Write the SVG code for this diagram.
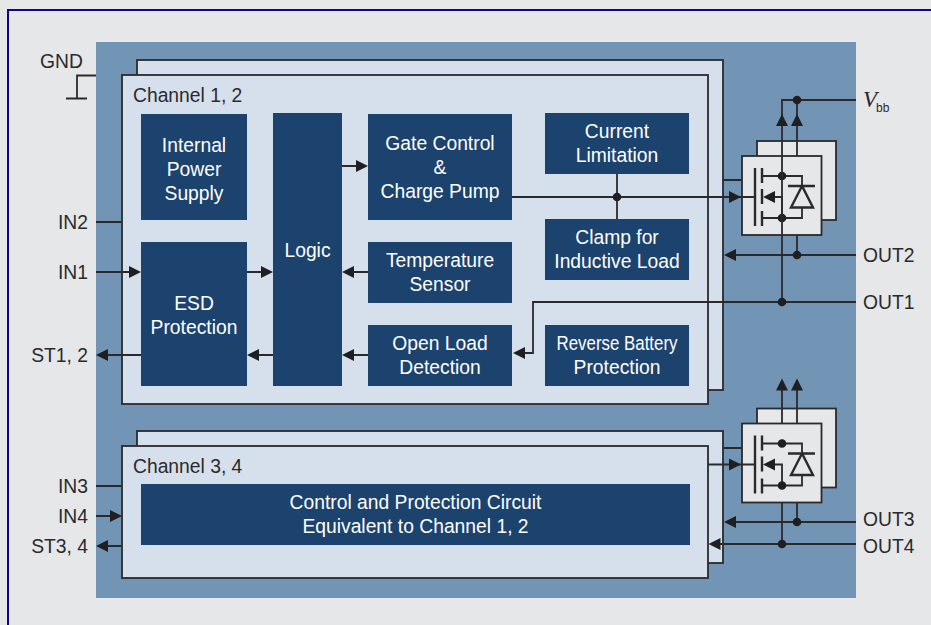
<svg xmlns="http://www.w3.org/2000/svg" width="931" height="625" viewBox="0 0 931 625">
<style>
text{font-family:"Liberation Sans",Arial,sans-serif;font-size:19.3px;fill:#2a2a2c}
.w{fill:#fff;text-anchor:middle}
.e{text-anchor:end}
.b{fill:#1c436d}
.ch{fill:#d6e0ec;stroke:#2a2a2c;stroke-width:1.8}
.m{fill:#e6e7e9;stroke:#2a2a2c;stroke-width:1.8}
.l{fill:none;stroke:#2a2a2c;stroke-width:1.8}
.t{stroke-width:2.4}
.a,.d{fill:#1f1f21}
</style>
<defs>
<path id="au" class="a" d="M0 0L6 12H-6Z"/>
<path id="al" class="a" d="M0 0L12 -6V6Z"/>
<path id="ar" class="a" d="M0 0L-12 -6V6Z"/>
<circle id="dot" class="d" r="4.300"/>
<g id="fet">
<rect class="m" x="757" y="141" width="79" height="79"/>
<rect class="m" x="742" y="156" width="79.500" height="79"/>
<path class="l t" d="M755 168V226M762 168V183M762 189V204M762 211V226"/>
<path class="l" d="M762 176H802V186M762 218H802V208M775 197H782V218"/>
<path class="l t" d="M788 186H815M802 186L791 207.500H813Z"/>
<use href="#al" x="763" y="197"/>
<use href="#dot" x="782" y="176"/>
<use href="#dot" x="782" y="218"/>
</g>
</defs>
<rect width="931" height="625" fill="#e6e7e9"/>
<path d="M8 625V10H931" fill="none" stroke="#16008c" stroke-width="2"/>
<rect x="96" y="42" width="760" height="556" fill="#7295b6"/>
<g id="ch12-back"><rect class="ch" x="137" y="60" width="586" height="330"/></g>
<g id="ch12"><rect class="ch" x="122" y="75" width="586" height="329"/><text x="133" y="102">Channel 1, 2</text></g>
<g id="ch34-back"><rect class="ch" x="137" y="431" width="586" height="132"/></g>
<g id="ch34"><rect class="ch" x="122" y="446" width="586" height="132"/><text x="133" y="473">Channel 3, 4</text></g>
<g id="fet12"><use href="#fet"/></g>
<g id="fet34"><use href="#fet" y="267.500"/></g>
<g id="connectors">
<path class="l" d="M96 75.500H77V98M66 98.500H87M96 222H122M96 272H130M107 355H141M342 166H357M247 272H262M353 272H368M258 355H273M353 355H368M524 353H533V302H856M512 197H730M617 173V219M730 197H755M723 180H742M782 125V302M797 125V156M797 100H856M782 125V100H797M797 100V125M797 235V255M735 255H856"/>
<path class="l" d="M96 486H122M96 516H110M107 546H122M782 389V423.500M797 389V423.500M782 503V544M797 503V522M735 522H856M720 544H856M708 464.500H755M723 448H742"/>
<use href="#ar" x="141" y="272"/>
<use href="#al" x="96" y="355"/>
<use href="#ar" x="368" y="166"/>
<use href="#ar" x="273" y="272"/>
<use href="#al" x="342" y="272"/>
<use href="#al" x="247" y="355"/>
<use href="#al" x="342" y="355"/>
<use href="#al" x="513" y="353"/>
<use href="#ar" x="741" y="197"/>
<use href="#al" x="724" y="255"/>
<use href="#au" x="782" y="114"/>
<use href="#au" x="797" y="114"/>
<use href="#dot" x="797" y="100"/>
<use href="#dot" x="617" y="197"/>
<use href="#dot" x="797" y="255"/>
<use href="#dot" x="782" y="302"/>
<use href="#ar" x="122" y="516"/>
<use href="#al" x="96" y="546"/>
<use href="#ar" x="741" y="464.500"/>
<use href="#al" x="724" y="522"/>
<use href="#al" x="708.500" y="544"/>
<use href="#au" x="782" y="378.500"/>
<use href="#au" x="797" y="378.500"/>
<use href="#dot" x="797" y="522"/>
<use href="#dot" x="782" y="544"/>
</g>
<g id="power"><rect class="b" x="141" y="114" width="106" height="106"/><text class="w" x="194" y="152">Internal</text><text class="w" x="194" y="176">Power</text><text class="w" x="194" y="200">Supply</text></g>
<g id="esd"><rect class="b" x="141" y="242" width="106" height="144"/><text class="w" x="194" y="310">ESD</text><text class="w" x="194" y="334">Protection</text></g>
<g id="logic"><rect class="b" x="273" y="113" width="69" height="273"/><text class="w" x="307.500" y="257">Logic</text></g>
<g id="gate"><rect class="b" x="368" y="114" width="144" height="106"/><text class="w" x="440" y="150">Gate Control</text><text class="w" x="440" y="174">&amp;</text><text class="w" x="440" y="198">Charge Pump</text></g>
<g id="current"><rect class="b" x="545" y="113" width="144" height="61"/><text class="w" x="617" y="138">Current</text><text class="w" x="617" y="162">Limitation</text></g>
<g id="clamp"><rect class="b" x="545" y="219" width="144" height="61"/><text class="w" x="617" y="244">Clamp for</text><text class="w" x="617" y="268">Inductive Load</text></g>
<g id="temp"><rect class="b" x="368" y="242" width="144" height="61"/><text class="w" x="440" y="267">Temperature</text><text class="w" x="440" y="291">Sensor</text></g>
<g id="open"><rect class="b" x="368" y="325" width="144" height="61"/><text class="w" x="440" y="350">Open Load</text><text class="w" x="440" y="374">Detection</text></g>
<g id="reverse"><rect class="b" x="545" y="325" width="144" height="61"/><text class="w" x="617" y="350" textLength="121" lengthAdjust="spacingAndGlyphs">Reverse Battery</text><text class="w" x="617" y="374">Protection</text></g>
<g id="control"><rect class="b" x="141" y="484" width="549" height="61"/><text class="w" x="415.500" y="509">Control and Protection Circuit</text><text class="w" x="415.500" y="533">Equivalent to Channel 1, 2</text></g>
<g id="labels">
<text x="40" y="68">GND</text>
<text class="e" x="88" y="229">IN2</text><text class="e" x="88" y="279">IN1</text><text class="e" x="88" y="362">ST1, 2</text>
<text class="e" x="88" y="493">IN3</text><text class="e" x="88" y="523">IN4</text><text class="e" x="88" y="553">ST3, 4</text>
<text x="863" y="107" font-style="italic" style="font-family:'Liberation Serif',serif;font-size:23px">V<tspan dx="-1" dy="5" font-style="normal" style="font-family:'Liberation Sans',sans-serif;font-size:12px">bb</tspan></text>
<text x="863" y="262">OUT2</text><text x="863" y="309">OUT1</text><text x="863" y="526">OUT3</text><text x="863" y="553">OUT4</text>
</g>
</svg>
